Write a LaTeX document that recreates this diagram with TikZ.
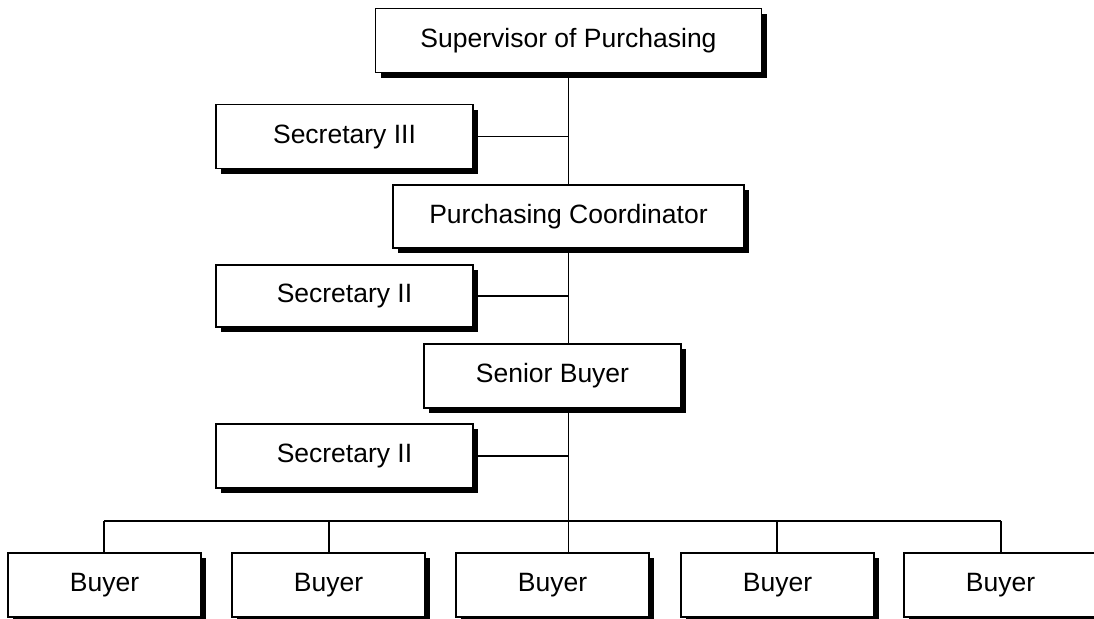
\documentclass[tikz,border=0pt]{standalone}
\usepackage{fontspec}
\setmainfont{Liberation Sans}
\usetikzlibrary{shadows}

\begin{document}
\begin{tikzpicture}[x=0.5pt, y=-0.5pt,
  post/.style={draw, line width=0.7pt, fill=white, inner sep=0pt, outer sep=0pt,
    minimum height=32pt, font=\fontsize{13.25}{16}\selectfont,
    drop shadow={shadow xshift=2.5pt, shadow yshift=-2.5pt, fill=black, opacity=1}},
  bond/.style={line width=0.65pt}]
  \useasboundingbox (0,0) rectangle (1094,618);
  % main line
  \node[post, minimum width=193pt] (sup) at (568.5,40.5) {Supervisor of Purchasing};
  \node[post, minimum width=128.5pt] (sec3) at (344.5,136.5) {Secretary III};
  \node[post, minimum width=175.5pt, minimum height=31.5pt] (coord) at (568.5,216.5) {Purchasing Coordinator};
  \node[post, minimum width=128.5pt, minimum height=31pt] (sec2a) at (344.5,296) {Secretary II};
  \node[post, minimum width=128.5pt] (senior) at (552.5,376) {Senior Buyer};
  \node[post, minimum width=128.5pt] (sec2b) at (344.5,456) {Secretary II};
  \draw[bond] (sup) -- (coord) (coord.south) -- (coord.south |- senior.north);
  \draw[bond] (sec3.east) -- (sec3.east -| sup.south);
  \draw[bond] (sec2a.east) -- (sec2a.east -| coord.south);
  \draw[bond] (sec2b.east) -- (sec2b.east -| coord.south);
  % buyers
  \foreach \i/\xx/\s in {1/104.5/104, 2/328.5/329, 3/552.5/568.5, 4/777.5/777, 5/1000.5/1001} {
    \node[post, minimum width=96.5pt] (b\i) at (\xx,585) {Buyer};
    \coordinate (s\i) at (\s,521);
    \draw[bond] (s\i) -- (s\i |- b\i.north);
  }
  \draw[bond] (s1) -- (s5) (s3 |- senior.south) -- (s3);
\end{tikzpicture}
\end{document}
